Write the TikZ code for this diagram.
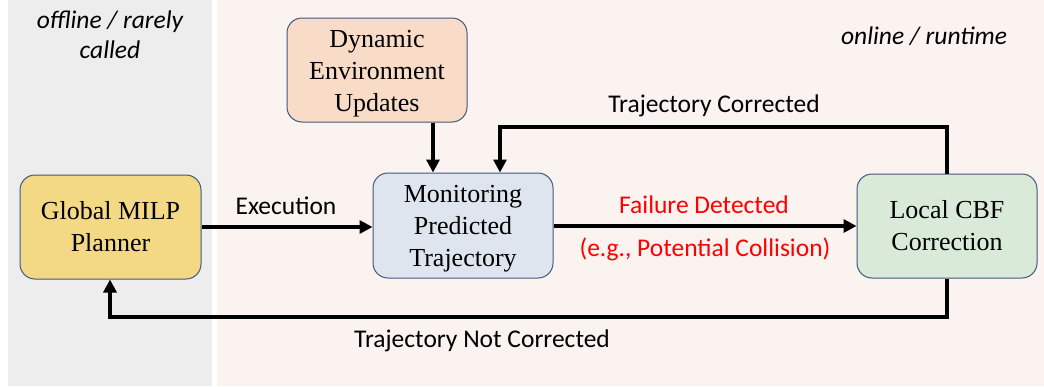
\documentclass[tikz,border=0pt]{standalone}
\usepackage{fontspec}
\setmainfont{Liberation Serif}
\newfontfamily\labelfont{Carlito}
\usetikzlibrary{arrows.meta}
\definecolor{offlinebg}{HTML}{EDEDED}
\definecolor{onlinebg}{HTML}{FBF3EF}
\definecolor{boxline}{HTML}{41587F}
\definecolor{plannerfill}{HTML}{F4D985}
\definecolor{envfill}{HTML}{F8DCC7}
\definecolor{monfill}{HTML}{DFE5EE}
\definecolor{cbffill}{HTML}{D9EBD8}
\definecolor{failred}{HTML}{FF0000}
% taller first line, lowers a three-line block text slightly
\newcommand{\firstline}{\rule{0pt}{24pt}}
\tikzset{
  block/.style={draw=boxline, line width=1pt, rounded corners=15pt,
    align=center, inner sep=0pt, font=\fontsize{26}{32}\selectfont},
  flow/.style={line width=4pt, -{Triangle[length=13pt,width=13pt]}},
  lbl/.style={font=\labelfont\fontsize{25.5}{30}\selectfont, inner sep=0pt},
  zone/.style={font=\labelfont\itshape\fontsize{25.5}{30}\selectfont, align=center, inner sep=0pt}
}
\begin{document}
\begin{tikzpicture}[x=1pt,y=-1pt]
  % canvas and the two operating zones
  \fill[white] (0,0) rectangle (1044,386);
  \fill[offlinebg] (8,0) rectangle (212,386);
  \fill[onlinebg] (217,0) rectangle (1044,386);
  \useasboundingbox (0,0) rectangle (1044,386);

  \node[zone] (offl) at (110,35) {offline / rarely\\called};
  \node[zone] (onl) at (924,36) {online / runtime};

  % blocks
  \node[block, fill=plannerfill, minimum width=181pt, minimum height=104pt] (plan) at (110.5,227) {Global MILP\\Planner};
  \node[block, fill=envfill, minimum width=180pt, minimum height=104pt] (env) at (377,70) {\firstline Dynamic\\Environment\\Updates};
  \node[block, fill=monfill, minimum width=180pt, minimum height=105pt] (mon) at (463,225.5) {\firstline Monitoring\\Predicted\\Trajectory};
  \node[block, fill=cbffill, minimum width=180pt, minimum height=104pt] (cbf) at (947,226) {Local CBF\\Correction};

  % bends of the feedback loops
  \coordinate (topR) at (947,127);
  \coordinate (topL) at (500,127);
  \coordinate (botR) at (947,317);
  \coordinate (botL) at (110,317);

  % connectors
  \draw[flow] (plan.east |- 0,227) -- (mon.west |- 0,227);
  \draw[flow] (env.south -| 433,0) -- (mon.north -| 433,0);
  \draw[flow, line join=miter] (cbf.north) -- (topR) -- (topL) -- (mon.north -| topL);
  \draw[flow] (mon.east |- 0,226) -- (cbf.west |- 0,226);
  \draw[flow, line join=miter] (cbf.south) -- (botR) -- (botL) -- (plan.south -| botL);

  % connector labels
  \node[lbl] (exec) at (286,206) {Execution};
  \node[lbl] (corr) at (714,106) {Trajectory Corrected};
  \node[lbl, text=failred] (fail) at (704,205) {Failure Detected};
  \node[lbl, text=failred] (eg) at (705,249) {(e.g., Potential Collision)};
  \node[lbl] (notc) at (482,341) {Trajectory Not Corrected};
\end{tikzpicture}
\end{document}
